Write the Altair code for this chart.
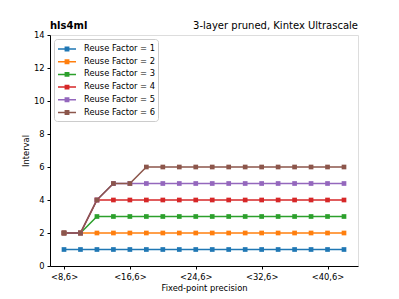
import altair as alt
import pandas as pd

precision = [8, 10, 12, 14, 16, 18, 20, 22, 24, 26, 28, 30, 32, 34, 36, 38, 40, 42]
rf1 = [1, 1, 1, 1, 1, 1, 1, 1, 1, 1, 1, 1, 1, 1, 1, 1, 1, 1]
rf2 = [2, 2, 2, 2, 2, 2, 2, 2, 2, 2, 2, 2, 2, 2, 2, 2, 2, 2]
rf3 = [2, 2, 3, 3, 3, 3, 3, 3, 3, 3, 3, 3, 3, 3, 3, 3, 3, 3]
rf4 = [2, 2, 4, 4, 4, 4, 4, 4, 4, 4, 4, 4, 4, 4, 4, 4, 4, 4]
rf5 = [2, 2, 4, 5, 5, 5, 5, 5, 5, 5, 5, 5, 5, 5, 5, 5, 5, 5]
rf6 = [2, 2, 4, 5, 5, 6, 6, 6, 6, 6, 6, 6, 6, 6, 6, 6, 6, 6]
series_names = ["Reuse Factor = 1", "Reuse Factor = 2", "Reuse Factor = 3",
                "Reuse Factor = 4", "Reuse Factor = 5", "Reuse Factor = 6"]
colors = ["#1f77b4", "#ff7f0e", "#2ca02c", "#d62728", "#9467bd", "#8c564b"]
x_ticks = [8, 16, 24, 32, 40]

rows = []
for i, (name, vals) in enumerate(zip(series_names, [rf1, rf2, rf3, rf4, rf5, rf6])):
    for p, v in zip(precision, vals):
        rows.append({"precision": p, "interval": v, "series": name, "order": i})
df = pd.DataFrame(rows)

FONT = "DejaVu Sans"
FS = 8.33

lines = alt.Chart(df).mark_line(
    strokeWidth=1.5,
    point=alt.OverlayMarkDef(shape="square", size=22, filled=True, opacity=1),
).encode(
    x=alt.X("precision:Q", title="Fixed-point precision",
            scale=alt.Scale(domain=[6.3, 43.7], nice=False, zero=False),
            axis=alt.Axis(values=x_ticks, labelExpr="'<' + datum.value + ',6>'",
                          grid=False, tickColor="black", domainColor="black",
                          tickSize=3, labelColor="black", titleColor="black",
                          labelFontSize=FS, titleFontSize=FS, labelFont=FONT,
                          titleFont=FONT, titleFontWeight="normal", labelPadding=3,
                          titlePadding=3)),
    y=alt.Y("interval:Q", title="Interval",
            scale=alt.Scale(domain=[0, 14], nice=False),
            axis=alt.Axis(values=[0, 2, 4, 6, 8, 10, 12, 14], grid=False,
                          tickColor="black", domainColor="black", tickSize=3,
                          labelColor="black", titleColor="black", labelFontSize=FS,
                          titleFontSize=FS, labelFont=FONT, titleFont=FONT,
                          titleFontWeight="normal", labelPadding=3, titlePadding=3)),
    color=alt.Color("series:N", sort=series_names,
                    scale=alt.Scale(domain=series_names, range=colors),
                    legend=alt.Legend(
                        title=None, orient="top-left", offset=4,
                        fillColor="white", strokeColor="#cccccc", cornerRadius=3,
                        padding=3, labelFont=FONT, labelFontSize=FS,
                        labelColor="black", rowPadding=0.7, labelOffset=13,
                        symbolType="M-1,0L2,0M0.22,-0.28L0.78,-0.28L0.78,0.28L0.22,0.28Z",
                        symbolSize=144, symbolStrokeWidth=1.5)),
    order="order:Q",
)

title_right = alt.Chart(pd.DataFrame({"t": ["3-layer pruned, Kintex Ultrascale"]})).mark_text(
    align="right", baseline="alphabetic", fontSize=10, font=FONT, color="black"
).encode(x=alt.value(308), y=alt.value(-6), text="t:N")

title_left = alt.Chart(pd.DataFrame({"t": ["hls4ml"]})).mark_text(
    align="left", baseline="alphabetic", fontSize=10, font=FONT, fontWeight="bold",
    color="black"
).encode(x=alt.value(0), y=alt.value(-6), text="t:N")

chart = alt.layer(lines, title_right, title_left).properties(
    width=308, height=231,
    autosize=alt.AutoSizeParams(type="none"),
    padding={"left": 42, "top": 27, "right": 33, "bottom": 28},
).configure_view(stroke="black", strokeWidth=1).configure(background="white")

chart.save("out.html", embed_options={"renderer": "svg", "actions": False})
